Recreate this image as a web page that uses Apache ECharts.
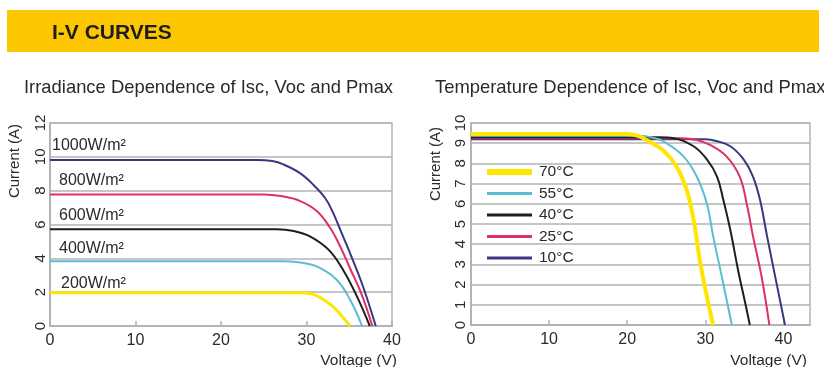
<!DOCTYPE html>
<html>
<head>
<meta charset="utf-8">
<title>I-V Curves</title>
<script src="https://cdn.jsdelivr.net/npm/echarts@6/dist/echarts.min.js"></script>
<style>
  html, body { margin: 0; padding: 0; background: #ffffff; }
  #chart { width: 824px; height: 367px; }
</style>
</head>
<body>
<div id="chart"></div>
<script>
// ---- Irradiance dependence: points are [voltage (V), current (A)] ----
const irradianceNames = ['1000W/m²', '800W/m²', '600W/m²', '400W/m²', '200W/m²'];
const irr1000 = [[0, 9.82], [24.2, 9.82], [26, 9.75], [27.3, 9.55], [29.2, 9.05], [30.8, 8.35], [32.2, 7.55], [33.1, 6.7], [34.1, 5.5], [35.1, 4.3], [36.6, 2.35], [38.1, 0]];
const irr800  = [[0, 7.78], [25, 7.78], [27, 7.68], [29.2, 7.4], [31.2, 6.8], [32.7, 5.85], [33.8, 4.85], [35.1, 3.4], [36.5, 1.8], [37.7, 0]];
const irr600  = [[0, 5.72], [26.5, 5.72], [28.5, 5.62], [30.4, 5.3], [32.6, 4.5], [34.3, 3.3], [35.9, 1.75], [37.4, 0]];
const irr400  = [[0, 3.83], [27, 3.83], [29.3, 3.75], [31.2, 3.52], [33.5, 2.75], [35.1, 1.55], [36.5, 0]];
const irr200  = [[0, 1.97], [29.2, 1.97], [30.6, 1.9], [31.6, 1.68], [32.6, 1.35], [33.5, 0.95], [35.1, 0]];
const irradianceCurves = [irr1000, irr800, irr600, irr400, irr200];

// ---- Temperature dependence: points are [voltage (V), current (A)] ----
const temperatureNames = ['70°C', '55°C', '40°C', '25°C', '10°C'];
const temp70 = [[0, 9.45], [20, 9.45], [21.5, 9.35], [22.5, 9.15], [24.6, 8.65], [26.3, 7.85], [27.6, 6.7], [28.5, 5.2], [29.3, 3.2], [30.2, 1.4], [31, 0]];
const temp55 = [[0, 9.37], [21.5, 9.37], [23, 9.3], [24.6, 9.1], [27.2, 8.35], [28.9, 7.35], [30.2, 6.0], [31, 4.4], [32.1, 2.4], [33.4, 0]];
const temp40 = [[0, 9.3], [24, 9.3], [26, 9.25], [28.5, 8.85], [30.2, 8.2], [31.5, 7.35], [32.3, 6.2], [33.2, 4.7], [34.2, 2.7], [35.1, 1.1], [35.7, 0]];
const temp25 = [[0, 9.24], [27, 9.24], [29, 9.15], [30.6, 8.92], [32.7, 8.35], [34.4, 7.35], [35.3, 6.0], [36.1, 4.4], [37.2, 2.4], [38.2, 0]];
const temp10 = [[0, 9.19], [30, 9.19], [31.5, 9.1], [33.2, 8.85], [34.9, 8.2], [36.1, 7.35], [37, 6.2], [37.9, 4.4], [39.1, 2.1], [40.2, 0]];
const temperatureCurves = [temp70, temp55, temp40, temp25, temp10];

// ---- Text ----
const headerTitle = 'I-V CURVES';
const leftTitle = 'Irradiance Dependence of Isc, Voc and Pmax';
const rightTitle = 'Temperature Dependence of Isc, Voc and Pmax';
const yName = 'Current (A)';
const xName = 'Voltage (V)';

// ---- Styles ----
const FONT = '"Liberation Sans", Arial, Helvetica, sans-serif';
const GRID_GREY = '#b3b3b3';
const TEXT = '#2a2a2a';
const irradianceColors = ['#3b3683', '#dc3066', '#1e1e1e', '#5bbdd3', '#ffe600'];
const irradianceWidths = [2, 2, 2, 2, 3];
const irradianceLabelOffsets = [[2, -14.5], [9, -14], [9, -14], [9, -13], [11, -9.5]];
const temperatureColors = ['#ffe600', '#5bbdd3', '#1e1e1e', '#dc3066', '#3b3683'];
const temperatureWidths = [4, 2, 2, 2, 2];
const temperatureLegendWidths = [6, 3, 3, 3, 3];

const chart = echarts.init(document.getElementById('chart'), null, { renderer: 'canvas' });

function valueAxisX(gridIndex, max, showMax) {
  return {
    type: 'value', gridIndex, min: 0, max, interval: 10,
    axisLine: { show: true, lineStyle: { color: GRID_GREY, width: 2 } },
    axisTick: { show: true, inside: true, length: 5, lineStyle: { color: GRID_GREY, width: 1.5 } },
    axisLabel: { color: TEXT, fontSize: 16, fontFamily: FONT, margin: 7, showMaxLabel: showMax },
    splitLine: { show: false }
  };
}
function valueAxisY(gridIndex, max, interval, margin) {
  return {
    type: 'value', gridIndex, min: 0, max, interval,
    axisLine: { show: true, lineStyle: { color: GRID_GREY, width: 2 } },
    axisTick: { show: false },
    axisLabel: { color: TEXT, fontSize: 15, fontFamily: FONT, rotate: 90, margin },
    splitLine: { show: true, lineStyle: { color: GRID_GREY, width: 1.5 } }
  };
}

const series = [];
irradianceNames.forEach((name, i) => {
  series.push({
    name, type: 'line', xAxisIndex: 0, yAxisIndex: 0,
    data: irradianceCurves[i], smooth: 0.4,
    symbol: 'none', lineStyle: { color: irradianceColors[i], width: irradianceWidths[i] },
    itemStyle: { color: irradianceColors[i] },
    markPoint: {
      symbol: 'circle', symbolSize: 0, silent: true,
      data: [{ coord: irradianceCurves[i][0] }],
      label: {
        show: true, formatter: name, position: irradianceLabelOffsets[i],
        align: 'left', verticalAlign: 'middle',
        color: TEXT, fontSize: 16, fontFamily: FONT
      }
    }
  });
});
// coolest curve first so the hotter ones sit above it on the flat part
for (let i = temperatureNames.length - 1; i >= 0; i--) {
  series.push({
    name: temperatureNames[i], type: 'line', xAxisIndex: 1, yAxisIndex: 1,
    data: temperatureCurves[i], smooth: 0.4,
    symbol: 'none', lineStyle: { color: temperatureColors[i], width: temperatureWidths[i] },
    itemStyle: { color: temperatureColors[i] }
  });
}

const option = {
  animation: false,
  textStyle: { fontFamily: FONT },
  grid: [
    { left: 50, top: 123, right: 432, bottom: 41, show: true, borderColor: GRID_GREY, borderWidth: 1.5, backgroundColor: 'transparent' },
    { left: 471, top: 123, right: 14, bottom: 42, show: true, borderColor: GRID_GREY, borderWidth: 1.5, backgroundColor: 'transparent' }
  ],
  xAxis: [valueAxisX(0, 40, true), valueAxisX(1, 43.4, false)],
  yAxis: [valueAxisY(0, 12, 2, 2), valueAxisY(1, 10, 1, 3)],
  legend: {
    show: true, orient: 'vertical', left: 484, top: 164, padding: 0,
    itemWidth: 45, itemHeight: 14, itemGap: 5.5,
    // plain line swatches: hide the marker dot drawn on top of each line
    itemStyle: { opacity: 0 },
    textStyle: { color: TEXT, fontSize: 15.5, fontFamily: FONT, lineHeight: 15, padding: [0, 0, 0, 2] },
    data: temperatureNames.map((n, i) => ({ name: n, lineStyle: { width: temperatureLegendWidths[i] } })),
    selectedMode: false
  },
  series,
  graphic: [
    { type: 'rect', shape: { x: 7, y: 10, width: 812, height: 42 }, style: { fill: '#fcc700' }, silent: true },
    { type: 'text', x: 52, y: 33, style: { text: headerTitle, fill: '#1c1c1c', font: 'bold 21px ' + FONT, verticalAlign: 'middle' } },
    { type: 'text', x: 24, y: 88, style: { text: leftTitle, fill: TEXT, font: '18.4px ' + FONT, verticalAlign: 'middle' } },
    { type: 'text', x: 435, y: 88, style: { text: rightTitle, fill: TEXT, font: '18.4px ' + FONT, verticalAlign: 'middle' } },
    { type: 'text', x: 15, y: 161, rotation: Math.PI / 2, style: { text: yName, fill: TEXT, font: '15px ' + FONT, align: 'center', verticalAlign: 'middle' } },
    { type: 'text', x: 436, y: 164, rotation: Math.PI / 2, style: { text: yName, fill: TEXT, font: '15px ' + FONT, align: 'center', verticalAlign: 'middle' } },
    { type: 'text', x: 397, y: 361, style: { text: xName, fill: TEXT, font: '15.5px ' + FONT, align: 'right', verticalAlign: 'middle' } },
    { type: 'text', x: 807, y: 361, style: { text: xName, fill: TEXT, font: '15.5px ' + FONT, align: 'right', verticalAlign: 'middle' } }
  ]
};
chart.setOption(option);
</script>
</body>
</html>
